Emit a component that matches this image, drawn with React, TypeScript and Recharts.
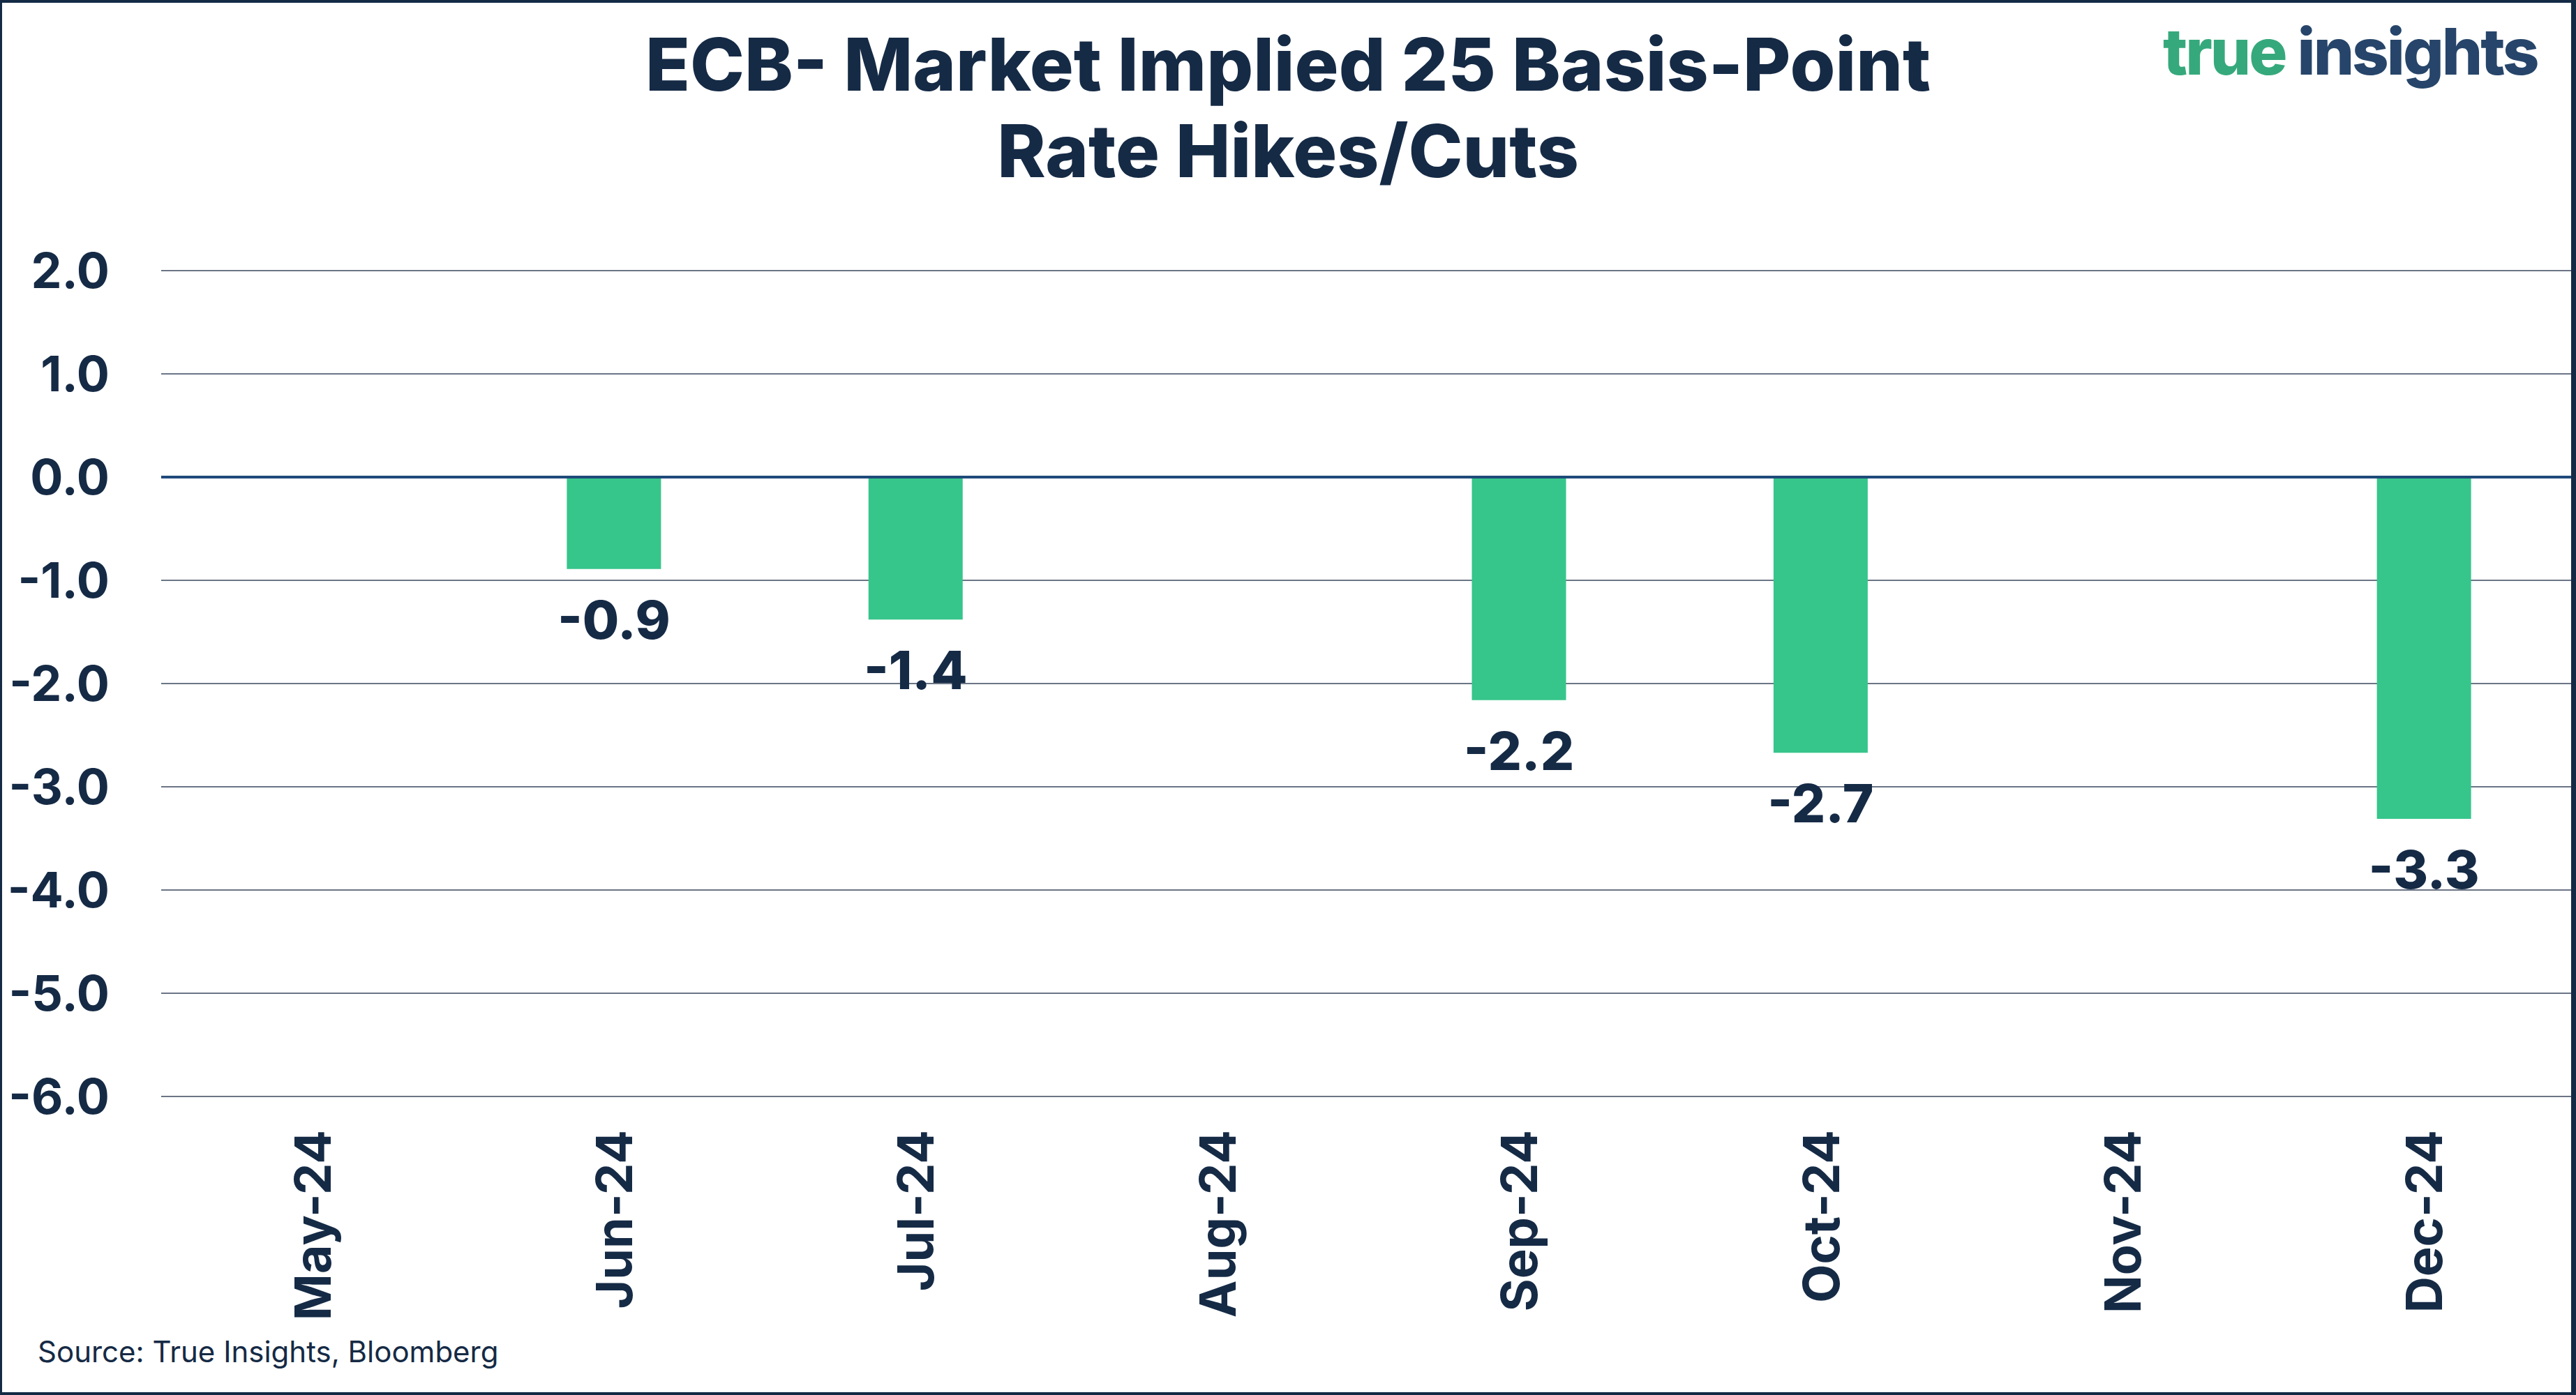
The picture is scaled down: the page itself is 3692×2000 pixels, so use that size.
import React from 'react';
import { BarChart, Bar, XAxis, YAxis, CartesianGrid, ReferenceLine, LabelList } from 'recharts';

const months = ['May-24', 'Jun-24', 'Jul-24', 'Aug-24', 'Sep-24', 'Oct-24', 'Nov-24', 'Dec-24'];
const hikesCuts = [null, -0.89, -1.38, null, -2.16, -2.67, null, -3.31];
const yTicks = [2, 1, 0, -1, -2, -3, -4, -5, -6];

const data = months.map((m, i) => ({ month: m, value: hikesCuts[i] }));

const NAVY = '#152a45';
const GREEN = '#36c58b';
const FONT = 'Inter, "Open Sans", sans-serif';

const XTick = (props: any) => {
  const { x, y, payload } = props;
  return (
    <text
      x={x}
      y={y}
      transform={`rotate(-90, ${x}, ${y})`}
      textAnchor="end"
      dominantBaseline="central"
      fill={NAVY}
      fontSize={72}
      fontWeight={700}
      fontFamily={FONT}
    >
      {payload.value}
    </text>
  );
};

const BarLabel = (props: any) => {
  const { x, y, width, height, value } = props;
  if (value == null) return null;
  const bottom = Math.max(y, y + height);
  return (
    <text
      x={x + width / 2}
      y={bottom + 72}
      textAnchor="middle"
      dominantBaseline="central"
      fill={NAVY}
      fontSize={76}
      fontWeight={800}
      fontFamily={FONT}
    >
      {Number(value).toFixed(1)}
    </text>
  );
};

export default function App() {
  return (
    <div style={{ position: 'relative', width: 3692, height: 2000, background: '#fff', fontFamily: FONT }}>
      <style>{'body{margin:0}'}</style>
      <div
        style={{
          position: 'absolute',
          left: 0,
          top: 30,
          width: 3692,
          textAlign: 'center',
          color: NAVY,
          fontSize: 105,
          fontWeight: 800,
          lineHeight: '124px',
        }}
      >
        ECB- Market Implied 25 Basis-Point
        <br />
        Rate Hikes/Cuts
      </div>
      <div
        style={{
          position: 'absolute',
          left: 3100,
          top: 18,
          fontSize: 92,
          fontWeight: 800,
          letterSpacing: -3,
          whiteSpace: 'nowrap',
        }}
      >
        <span style={{ color: '#36a97c' }}>true</span>
        <span style={{ color: '#27456a' }}> insights</span>
      </div>
      <div style={{ position: 'absolute', left: 0, top: 0 }}>
        <BarChart
          width={3692}
          height={2000}
          data={data}
          margin={{ top: 388, right: 2, bottom: 0, left: 0 }}
          barSize={135}
        >
          <CartesianGrid vertical={false} stroke="#6b7585" strokeWidth={2} />
          <XAxis
            dataKey="month"
            axisLine={false}
            tickLine={false}
            tickSize={0}
            tickMargin={48}
            height={428}
            interval={0}
            tick={<XTick />}
          />
          <YAxis
            domain={[-6, 2]}
            ticks={yTicks}
            interval={0}
            width={231}
            axisLine={false}
            tickLine={false}
            tickSize={0}
            tickMargin={74}
            tickFormatter={(v: number) => v.toFixed(1)}
            tick={{ fill: NAVY, fontSize: 70, fontWeight: 700, fontFamily: FONT }}
          />
          <ReferenceLine y={0} stroke="#1f4a7a" strokeWidth={4} />
          <Bar dataKey="value" fill={GREEN} isAnimationActive={false}>
            <LabelList dataKey="value" content={<BarLabel />} />
          </Bar>
        </BarChart>
      </div>
      <div
        style={{
          position: 'absolute',
          left: 54,
          top: 1912,
          fontSize: 42,
          color: NAVY,
          whiteSpace: 'nowrap',
        }}
      >
        Source: True Insights, Bloomberg
      </div>
      <div
        style={{
          position: 'absolute',
          inset: 0,
          borderStyle: 'solid',
          borderColor: '#142a45',
          borderWidth: '4px 7px 4px 3px',
          pointerEvents: 'none',
        }}
      />
    </div>
  );
}
